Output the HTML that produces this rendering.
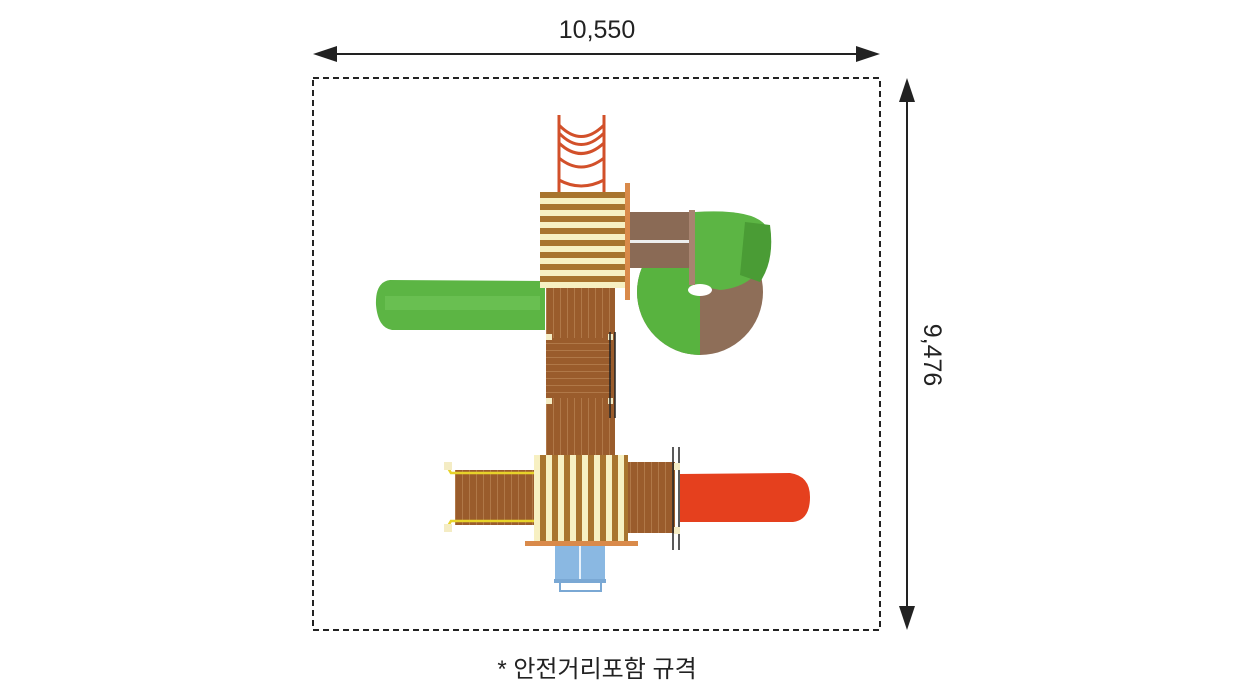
<!DOCTYPE html>
<html><head><meta charset="utf-8"><style>
html,body{margin:0;padding:0;background:#fff;}
svg{display:block;}
text{font-family:"Liberation Sans","Noto Sans CJK KR",sans-serif;fill:#222;}
</style></head><body>
<svg width="1256" height="700" viewBox="0 0 1256 700" xmlns="http://www.w3.org/2000/svg">
<defs>
<pattern id="hs" width="10" height="12" patternUnits="userSpaceOnUse"><rect width="10" height="12" fill="#f7f0c2"/><rect width="10" height="6" fill="#a8742e"/></pattern>
<pattern id="vs" width="12" height="10" patternUnits="userSpaceOnUse"><rect width="12" height="10" fill="#f7f0c2"/><rect width="6" height="10" fill="#a8742e"/></pattern>
<pattern id="wv" width="7" height="10" patternUnits="userSpaceOnUse"><rect width="7" height="10" fill="#9a5c2c"/><rect width="1" height="10" fill="#b07848"/></pattern>
<pattern id="wh" width="10" height="7" patternUnits="userSpaceOnUse"><rect width="10" height="7" fill="#9a5c2c"/><rect width="10" height="1" fill="#b07848"/></pattern>
</defs>
<!-- dimension lines -->
<line x1="322" y1="54" x2="871" y2="54" stroke="#222" stroke-width="2"/>
<polygon points="313,54 337,46 337,62" fill="#222"/>
<polygon points="880,54 856,46 856,62" fill="#222"/>
<text x="597" y="38" font-size="25" text-anchor="middle">10,550</text>
<rect x="313" y="78" width="567" height="552" fill="none" stroke="#222" stroke-width="2" stroke-dasharray="6,4"/>
<line x1="907" y1="88" x2="907" y2="620" stroke="#222" stroke-width="2"/>
<polygon points="907,78 899,102 915,102" fill="#222"/>
<polygon points="907,630 899,606 915,606" fill="#222"/>
<text x="0" y="0" font-size="25" text-anchor="middle" transform="translate(924,355) rotate(90)">9,476</text>
<text x="597" y="677" font-size="24" text-anchor="middle">* 안전거리포함 규격</text>

<!-- ladder -->
<g stroke="#d2502a" stroke-width="3" fill="none">
<line x1="559" y1="115" x2="559" y2="192"/><line x1="604" y1="115" x2="604" y2="192"/>
<path d="M559,125 Q581,148 604,125"/><path d="M559,133 Q581,156 604,133"/><path d="M559,143 Q581,164 604,143"/><path d="M559,158 Q581,176 604,158"/><path d="M559,180 Q581,192 604,180"/>
</g>
<!-- green left slide -->
<path d="M545,281 L390,280 Q375,282 376,305 Q378,328 392,330 L545,330 Z" fill="#5cb544"/>
<rect x="385" y="296" width="155" height="14" fill="#72c65a" opacity="0.6"/>
<!-- spiral -->
<circle cx="700" cy="292" r="63" fill="#8e6e58"/>
<path d="M700,229 A63,63 0 0 0 700,355 Z" fill="#58b33f"/>
<rect x="630" y="212" width="62" height="56" fill="#8a6a55"/>
<rect x="630" y="240" width="62" height="3" fill="#eee"/>
<path d="M695,212 Q760,208 768,230 Q770,285 720,290 L695,285 Z" fill="#5cb544"/>
<path d="M745,222 L770,225 Q775,260 760,282 L740,275 Z" fill="#4a9c35"/>
<ellipse cx="700" cy="290" rx="12" ry="6" fill="#fff"/>
<rect x="689" y="210" width="6" height="75" fill="#a88470"/>
<!-- deck column -->
<rect x="546" y="288" width="69" height="167" fill="url(#wv)"/>
<rect x="546" y="338" width="65" height="60" fill="url(#wh)"/>
<rect x="546" y="334" width="6" height="6" fill="#f4ecc4"/><rect x="546" y="398" width="6" height="6" fill="#f4ecc4"/>
<rect x="608" y="334" width="5" height="6" fill="#f4ecc4"/><rect x="608" y="398" width="5" height="6" fill="#f4ecc4"/>
<line x1="610" y1="332" x2="610" y2="418" stroke="#222" stroke-width="1.5"/><line x1="615" y1="332" x2="615" y2="418" stroke="#222" stroke-width="1.5"/>
<!-- top roof -->
<rect x="540" y="192" width="85" height="96" fill="url(#hs)"/>
<rect x="625" y="183" width="5" height="117" fill="#d98a4a"/>
<!-- left bridge -->
<rect x="455" y="470" width="80" height="55" fill="url(#wv)"/>
<path d="M448,468 L451,473 L534,473" stroke="#e7d32a" stroke-width="2.5" fill="none"/>
<path d="M448,526 L451,521 L534,521" stroke="#e7d32a" stroke-width="2.5" fill="none"/>
<rect x="444" y="462" width="8" height="8" fill="#f4ecc4"/><rect x="444" y="524" width="8" height="8" fill="#f4ecc4"/>
<!-- right deck -->
<rect x="628" y="462" width="47" height="71" fill="url(#wv)"/>
<line x1="673" y1="447" x2="673" y2="550" stroke="#222" stroke-width="1.5"/><line x1="679" y1="447" x2="679" y2="550" stroke="#222" stroke-width="1.5"/>
<rect x="674" y="463" width="6" height="7" fill="#f4ecc4"/><rect x="674" y="527" width="6" height="7" fill="#f4ecc4"/>
<!-- red slide -->
<path d="M680,474 L790,473 Q810,476 810,497 Q810,520 793,522 L680,522 Z" fill="#e5401e"/>
<!-- blue slide -->
<rect x="555" y="545" width="50" height="38" fill="#8ab8e2"/>
<rect x="579" y="545" width="2" height="38" fill="#e8f2fb"/>
<rect x="554" y="579" width="52" height="4" fill="#7aa8d4"/>
<path d="M560,583 V591 H601 V583" stroke="#7aa8d4" stroke-width="2" fill="none"/>
<!-- bottom roof -->
<rect x="534" y="455" width="94" height="88" fill="url(#vs)"/>
<rect x="525" y="541" width="113" height="5" fill="#d98a4a"/>
</svg>
</body></html>
